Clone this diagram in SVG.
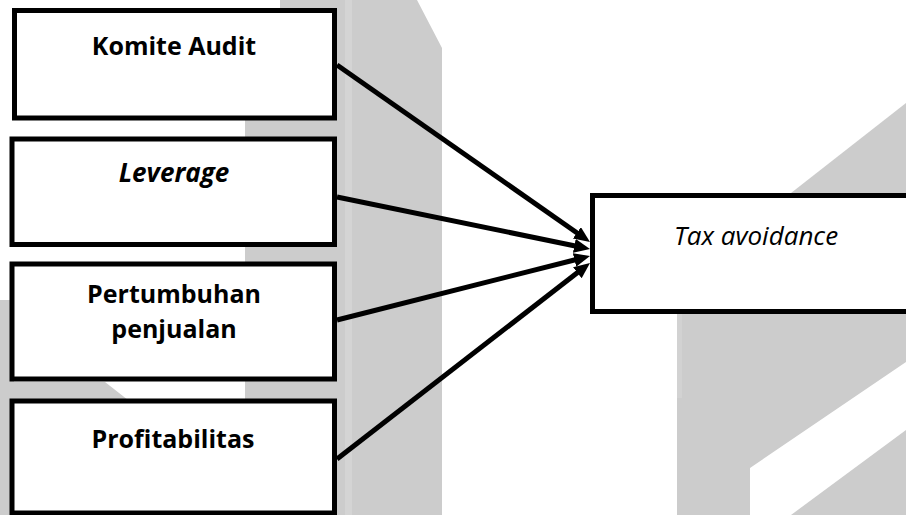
<svg xmlns="http://www.w3.org/2000/svg" width="906" height="515" viewBox="0 0 906 515">
  <defs>
    <style>
      .wm { fill: #cccccc; stroke: none; }
      .box { fill: #ffffff; stroke: #000000; stroke-width: 5; }
      .lbl { font-family: "Open Sans", "Liberation Sans", sans-serif; font-size: 25px; fill: #000000; text-anchor: middle; }
      .b { font-weight: 700; }
      .i { font-style: italic; font-size: 26px; }
      .conn { stroke: #000000; stroke-width: 5; fill: none; marker-end: url(#arrow); }
    </style>
    <marker id="arrow" markerUnits="userSpaceOnUse" markerWidth="18" markerHeight="16" refX="6" refY="7" orient="auto">
      <path d="M0,0 L16,7 L0,14 z" fill="#000000"/>
    </marker>
  </defs>

  <rect x="0" y="0" width="906" height="515" fill="#ffffff"/>

  <!-- watermark background -->
  <g id="watermark">
    <polygon class="wm" points="280,0 417,0 442,48 442,515 245,515 245,120 280,120"/>
    <rect x="345" y="0" width="7" height="515" fill="#d4d4d4"/>
    <polygon class="wm" points="0,300 14,300 14,382 105,382 128,400 14,400 14,515 0,515"/>
    <polygon class="wm" points="791,193 906,103 906,200 791,200"/>
    <polygon class="wm" points="677,310 906,310 906,362 750,468 750,515 677,515"/>
    <polygon class="wm" points="791,515 906,430 906,515"/>
    <rect x="677" y="313" width="5" height="85" fill="#d2d2d2"/>
  </g>

  <g id="connectors">
    <line class="conn" x1="337" y1="65" x2="581.8" y2="236.3"/>
    <line class="conn" x1="337" y1="197" x2="580.2" y2="247"/>
    <line class="conn" x1="337" y1="320" x2="580.3" y2="258.5"/>
    <line class="conn" x1="337" y1="459" x2="582.1" y2="269.1"/>
  </g>

  <g id="komite-audit">
    <rect class="box" x="14.5" y="10.5" width="320" height="107.5"/>
    <text class="lbl b" x="174" y="55">Komite Audit</text>
  </g>
  <g id="leverage">
    <rect class="box" x="12" y="139" width="322.5" height="105.5"/>
    <text class="lbl b i" x="174" y="182">Leverage</text>
  </g>
  <g id="pertumbuhan-penjualan">
    <rect class="box" x="12" y="264" width="322.5" height="115"/>
    <text class="lbl b" x="174" y="303">Pertumbuhan</text>
    <text class="lbl b" x="174" y="338">penjualan</text>
  </g>
  <g id="profitabilitas">
    <rect class="box" x="12" y="401" width="322.5" height="112"/>
    <text class="lbl b" x="173" y="448">Profitabilitas</text>
  </g>
  <g id="tax-avoidance">
    <rect class="box" x="592.5" y="195.5" width="330" height="116"/>
    <text class="lbl i" x="756" y="245">Tax avoidance</text>
  </g>
</svg>
